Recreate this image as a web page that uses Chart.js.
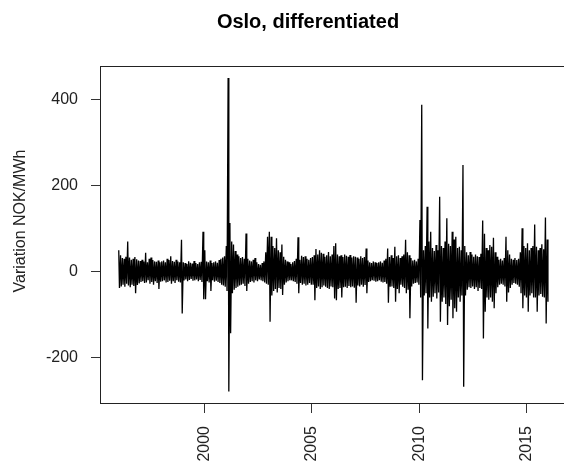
<!DOCTYPE html>
<html>
<head>
<meta charset="utf-8">
<script src="https://cdn.jsdelivr.net/npm/chart.js@4.4.1/dist/chart.umd.min.js"></script>
<style>
  html, body { margin: 0; padding: 0; background: #fff; overflow: hidden; }
  #wrap { position: relative; width: 564px; height: 472px; overflow: hidden; }
  canvas { position: absolute; left: 0; top: 0; }
</style>
</head>
<body>
<div id="wrap"><canvas id="osloChart" width="600" height="472"></canvas></div>
<script>
// monthly envelope of the daily differences (max and min per month)
const startYear = 1996;
const hi = [
  50, 38, 32, 30, 35, 70, 33, 28, 30, 34, 29, 26,      // 1996
  25, 28, 24, 44, 22, 30, 33, 27, 24, 23, 26, 22,      // 1997
  24, 26, 22, 30, 27, 36, 25, 23, 28, 24, 22, 74,      // 1998
  22, 20, 18, 24, 21, 19, 25, 20, 18, 22, 23, 93,      // 1999
  50, 24, 22, 26, 20, 22, 24, 21, 27, 30, 33, 36,      // 2000
  60, 450, 113, 70, 63, 48, 40, 36, 32, 34, 30, 89,    // 2001
  30, 26, 24, 28, 32, 22, 18, 16, 20, 24, 45, 81,      // 2002
  93, 81, 60, 55, 78, 50, 45, 63, 35, 28, 24, 22,      // 2003
  18, 22, 25, 30, 80, 28, 37, 34, 36, 30, 28, 32,      // 2004
  34, 38, 53, 40, 50, 44, 42, 35, 38, 46, 36, 40,      // 2005
  60, 66, 40, 36, 38, 34, 40, 37, 35, 39, 33, 36,      // 2006
  35, 33, 30, 36, 32, 34, 54, 26, 22, 20, 24, 22,      // 2007
  20, 22, 24, 21, 26, 30, 54, 34, 38, 32, 58, 36,      // 2008
  38, 32, 36, 40, 74, 45, 38, 32, 26, 28, 24, 30,      // 2009
  120, 388, 50, 60, 151, 70, 93, 55, 48, 62, 50, 174,  // 2010
  60, 55, 70, 124, 65, 60, 93, 75, 81, 55, 58, 50,     // 2011
  248, 60, 45, 38, 46, 40, 35, 40, 36, 34, 42, 119,    // 2012
  88, 55, 50, 62, 58, 79, 45, 35, 28, 30, 26, 32,      // 2013
  81, 50, 40, 30, 28, 32, 27, 30, 45, 101, 60, 55,     // 2014
  66, 50, 55, 60, 110, 58, 50, 55, 64, 52, 126, 75     // 2015
];
const lo = [
  -38, -34, -30, -35, -28, -32, -36, -30, -33, -50, -31, -27,
  -24, -22, -26, -25, -20, -28, -24, -30, -22, -26, -40, -23,
  -22, -20, -25, -24, -21, -28, -22, -26, -20, -23, -25, -97,
  -20, -18, -22, -19, -17, -21, -20, -18, -22, -19, -24, -64,
  -64, -22, -25, -45, -20, -23, -21, -24, -26, -30, -32, -35,
  -45, -278, -143, -50, -42, -38, -35, -32, -30, -28, -33, -45,
  -28, -24, -22, -25, -20, -22, -18, -20, -22, -25, -28, -30,
  -116, -55, -45, -40, -48, -38, -40, -54, -30, -25, -22, -20,
  -20, -22, -24, -28, -50, -26, -30, -28, -32, -30, -26, -30,
  -30, -66, -38, -34, -40, -36, -32, -35, -38, -40, -34, -36,
  -62, -66, -40, -38, -60, -36, -35, -38, -33, -36, -34, -37,
  -72, -32, -34, -30, -35, -31, -50, -24, -22, -20, -21, -23,
  -22, -20, -23, -25, -24, -28, -72, -35, -34, -38, -70, -40,
  -50, -30, -35, -38, -50, -42, -108, -34, -28, -26, -25, -30,
  -60, -252, -55, -50, -132, -60, -70, -58, -50, -62, -48, -116,
  -70, -60, -75, -124, -80, -65, -108, -85, -93, -60, -70, -55,
  -267, -55, -42, -36, -38, -34, -40, -36, -45, -38, -40, -155,
  -93, -60, -65, -60, -70, -85, -50, -36, -30, -28, -30, -34,
  -70, -48, -38, -30, -26, -28, -30, -35, -50, -85, -55, -60,
  -93, -55, -50, -60, -60, -93, -55, -52, -58, -60, -120, -70
];
const xTicks = [2000, 2005, 2010, 2015];
const yTicks = [-200, 0, 200, 400];

const points = [];
hi.forEach((h, i) => {
    const t = startYear + i / 12;
    points.push({ x: t + 0.3 / 12, y: h });
    points.push({ x: t + 0.7 / 12, y: lo[i] });
});

const FONT = '"Liberation Sans", Arial, Helvetica, sans-serif';

// R style box, main title and y label
const rDecor = {
    id: 'rDecor',
    afterDraw(chart) {
        const { ctx, chartArea: a } = chart;
        ctx.save();
        ctx.strokeStyle = '#222';
        ctx.lineWidth = 1;
        ctx.strokeRect(Math.round(a.left) - 0.5, Math.round(a.top) + 0.5,
                       a.right - a.left, Math.round(a.bottom - a.top));
        ctx.fillStyle = '#000';
        ctx.font = 'bold 20px ' + FONT;
        ctx.textAlign = 'center';
        ctx.textBaseline = 'alphabetic';
        ctx.fillText('Oslo, differentiated', 308, 28);
        ctx.font = '16px ' + FONT;
        ctx.fillStyle = '#222';
        ctx.translate(21, 221);
        ctx.rotate(-Math.PI / 2);
        ctx.textBaseline = 'middle';
        ctx.fillText('Variation NOK/MWh', 0, 0);
        ctx.restore();
    }
};

const ctx = document.getElementById('osloChart').getContext('2d');
const chart = new Chart(ctx, {
    type: 'line',
    data: {
        datasets: [{
            data: points,
            borderColor: '#000',
            borderWidth: 1.3,
            borderJoinStyle: 'bevel',
            pointRadius: 0,
            tension: 0,
            fill: false
        }]
    },
    options: {
        responsive: false,
        animation: false,
        devicePixelRatio: 1,
        layout: { padding: { top: 66, left: 0, right: 34.3, bottom: 0 } },
        plugins: { legend: { display: false }, tooltip: { enabled: false } },
        scales: {
            x: {
                type: 'linear',
                min: 1995.2,
                max: 2016.8,
                afterBuildTicks: s => { s.ticks = xTicks.map(v => ({ value: v })); },
                afterFit: s => { s.height = 69; },
                grid: { drawOnChartArea: false, drawTicks: true, tickLength: 10, color: '#333' },
                border: { display: false },
                ticks: {
                    autoSkip: false,
                    minRotation: 90,
                    maxRotation: 90,
                    padding: 13,
                    color: '#222',
                    font: { family: FONT, size: 16 },
                    callback: v => String(v)
                }
            },
            y: {
                min: -305,
                max: 478,
                afterBuildTicks: s => { s.ticks = yTicks.map(v => ({ value: v })); },
                afterFit: s => { s.width = 101; },
                grid: { drawOnChartArea: false, drawTicks: true, tickLength: 10, color: '#333' },
                border: { display: false },
                ticks: {
                    padding: 13,
                    color: '#222',
                    font: { family: FONT, size: 16 },
                    callback: v => String(v)
                }
            }
        }
    },
    plugins: [rDecor]
});
</script>
</body>
</html>
